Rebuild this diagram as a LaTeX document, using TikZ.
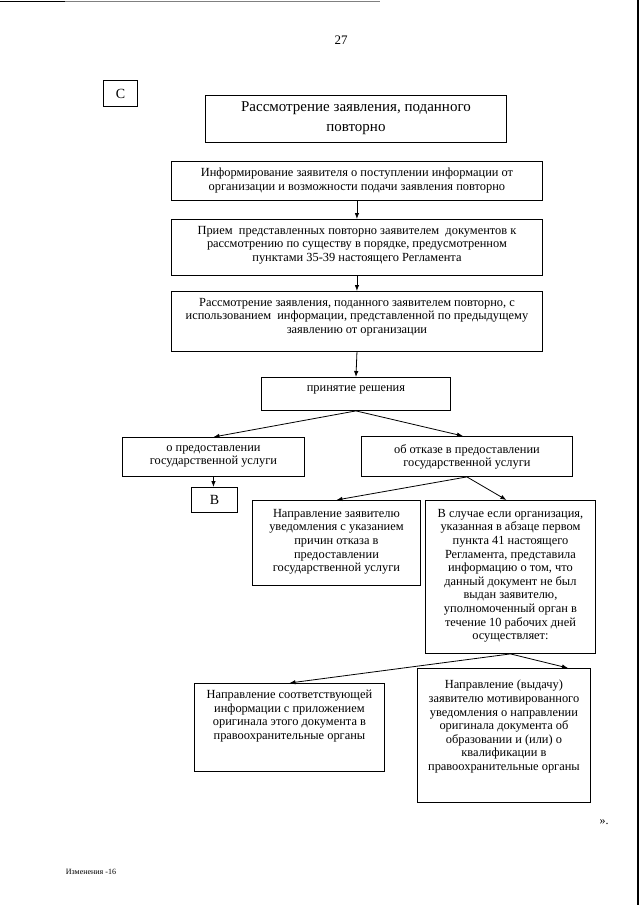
\documentclass[tikz,border=0pt]{standalone}
\usepackage{fontspec}
\setmainfont{Liberation Serif}
\usetikzlibrary{arrows.meta}
\newcommand\mybox[5]{\node[box, minimum width={#3-#2}, minimum height={#5-#4}] (#1) at (#2,#4) {};}
\begin{document}
\begin{tikzpicture}[x=1pt,y=-1pt,
  box/.style={draw, line width=0.9pt, inner sep=0pt, anchor=north west},
  txt/.style={align=center, inner sep=0pt, anchor=north, font=\fontsize{12.4}{13.6}\selectfont},
  arr/.style={-{Latex[length=6pt,width=4.5pt]}, line width=0.8pt}]
\useasboundingbox (0,0) rectangle (640,905);
% scan border traces
\draw[line width=2pt] (637.5,0) -- (637.5,905);
\draw[line width=1pt] (0,1) -- (65,1);
\draw[line width=0.8pt, gray] (65,1) -- (380,1);

\node[font=\fontsize{13}{15}\selectfont] (pg) at (341,40) {27};

\mybox{C}{103}{137}{80}{106}
\node[font=\fontsize{14}{16}\selectfont] (Ct) at (C) {С};

\mybox{T}{205}{506}{95}{142}
\node[txt, font=\fontsize{15}{20}\selectfont] (Tt) at ([yshift=-6pt]T.north) {Рассмотрение заявления, поданного\\повторно};

\mybox{b1}{171}{542}{161}{200}
\node[txt] (t1) at ([yshift=-7pt]b1.north) {Информирование заявителя о поступлении информации от\\организации и возможности подачи заявления повторно};

\mybox{b2}{171}{542}{219}{275}
\node[txt] (t2) at ([yshift=-7pt]b2.north) {Прием\ \ представленных повторно заявителем\ \ документов к\\рассмотрению по существу в порядке, предусмотренном\\пунктами 35-39 настоящего Регламента};

\mybox{b3}{171}{542}{291}{351}
\node[txt] (t3) at ([yshift=-7pt]b3.north) {Рассмотрение заявления, поданного заявителем повторно, с\\использованием\ \ информации, представленной по предыдущему\\заявлению от организации};

\mybox{dec}{261}{450}{377}{410}
\node[txt] (td) at ([yshift=-8pt]dec.north) {принятие решения};

\mybox{yes}{122}{304}{437}{476}
\node[txt] (ty) at ([yshift=-8pt]yes.north) {о предоставлении\\государственной услуги};

\mybox{no}{361}{572}{436}{476}
\node[txt] (tn) at ([yshift=-8pt]no.north) {об отказе в предоставлении\\государственной услуги};

\mybox{B}{191}{237}{487}{512}
\node[font=\fontsize{14}{16}\selectfont] (Bt) at (B) {В};

\mybox{n1}{252}{420}{500}{585}
\node[txt] (tn1) at ([yshift=-9pt]n1.north) {Направление заявителю\\уведомления с указанием\\причин отказа в\\предоставлении\\государственной услуги};

\mybox{n2}{425}{595}{500}{653}
\node[txt] (tn2) at ([yshift=-9pt]n2.north) {В случае если организация,\\указанная в абзаце первом\\пункта 41 настоящего\\Регламента, представила\\информацию о том, что\\данный документ не был\\выдан заявителю,\\уполномоченный орган в\\течение 10 рабочих дней\\осуществляет:};

\mybox{L}{194}{384}{683}{771}
\node[txt] (tL) at ([yshift=-7pt]L.north) {Направление соответствующей\\информации с приложением\\оригинала этого документа в\\правоохранительные органы};

\mybox{R}{417}{590}{668}{802}
\node[txt] (tR) at ([yshift=-12pt]R.north) {Направление (выдачу)\\заявителю мотивированного\\уведомления о направлении\\оригинала документа об\\образовании и (или) о\\квалификации в\\правоохранительные органы};

\node[font=\fontsize{12}{14}\selectfont] (q) at (604,822) {».};
\node[font=\fontsize{8}{9}\selectfont] (ch) at (91,872) {Изменения -16};

\draw[arr] (b1.south) -- (b2.north);
\draw[arr] (b2.south) -- (b3.north);
\draw[arr] (b3.south) -- (dec.north);
\draw[arr] (dec.south) -- (yes.north);
\draw[arr] (dec.south) -- ([xshift=-4pt]no.north);
\draw[arr] (yes.south) -- (yes.south |- B.north);
\draw[arr] (no.south) -- (n1.north);
\draw[arr] (no.south) -- ([xshift=-4pt]n2.north);
\draw[arr] (n2.south) -- (L.north);
\draw[arr] (n2.south) -- ([xshift=64pt]R.north);
\end{tikzpicture}
\end{document}
